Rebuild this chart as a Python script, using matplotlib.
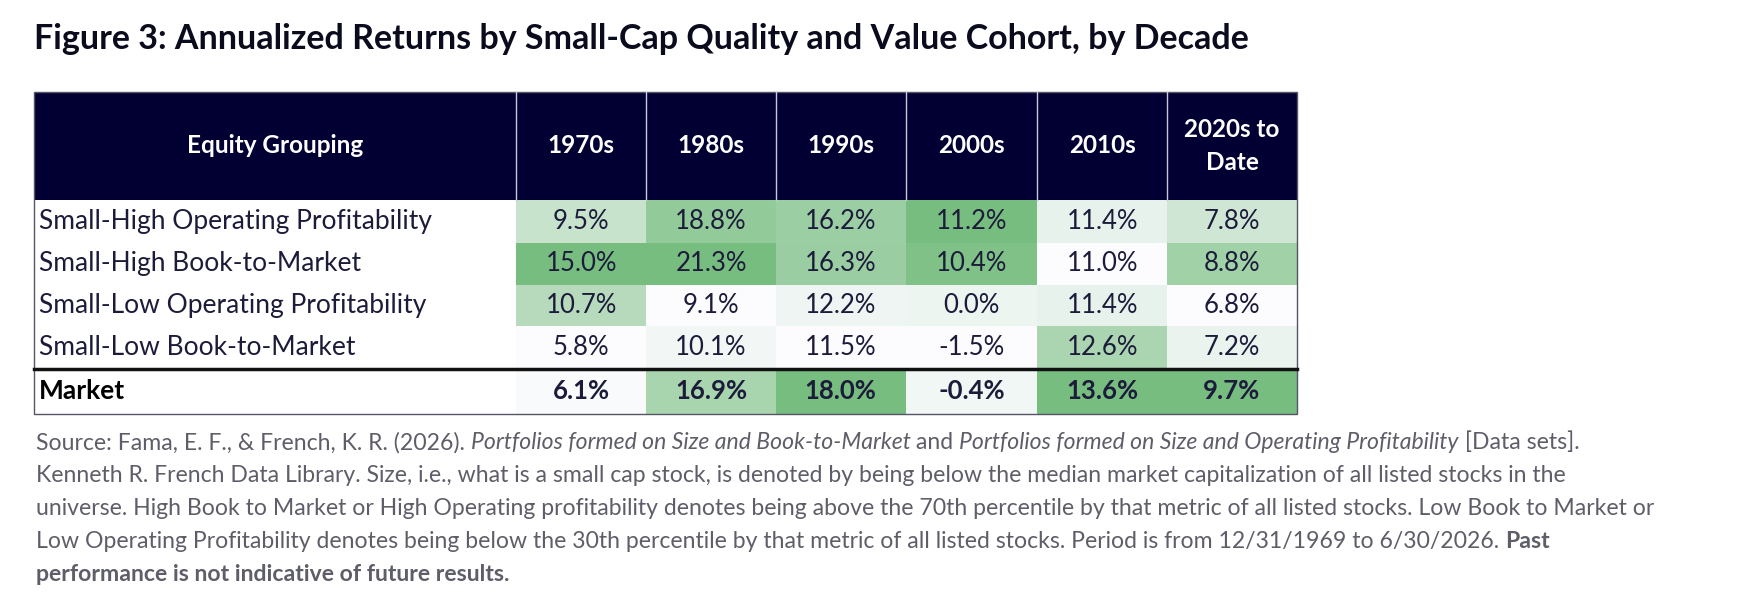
import numpy as np
import matplotlib.pyplot as plt
from matplotlib.patches import Rectangle
from matplotlib.colors import LinearSegmentedColormap

plt.rcParams['font.family'] = ['Lato', 'DejaVu Sans']

title = 'Figure 3: Annualized Returns by Small-Cap Quality and Value Cohort, by Decade'
col_labels = ['Equity Grouping', '1970s', '1980s', '1990s', '2000s', '2010s', '2020s to\nDate']
row_labels = ['Small-High Operating Profitability', 'Small-High Book-to-Market',
              'Small-Low Operating Profitability', 'Small-Low Book-to-Market', 'Market']
returns = np.array([
    [9.5, 18.8, 16.2, 11.2, 11.4, 7.8],
    [15.0, 21.3, 16.3, 10.4, 11.0, 8.8],
    [10.7, 9.1, 12.2, 0.0, 11.4, 6.8],
    [5.8, 10.1, 11.5, -1.5, 12.6, 7.2],
    [6.1, 16.9, 18.0, -0.4, 13.6, 9.7],
])

W, H = 1560, 544
navy = '#020033'
ink = '#1c1c3a'
cmap = LinearSegmentedColormap.from_list('g', ['#fcfcff', '#78bd80'])

fig = plt.figure(figsize=(17.44, 6.08), dpi=100)
ax = fig.add_axes([0, 0, 1, 1])
ax.set_xlim(0, W)
ax.set_ylim(H, 0)
ax.axis('off')

ax.text(30, 35, title, fontsize=24.5, fontweight='bold', color='#0b0b1e', va='center', ha='left')

xs = [30, 462, 578, 694, 810, 928, 1044, 1160]
top, hbot = 82, 179
row_y = [179, 217, 255, 292, 330, 370]

# header
ax.add_patch(Rectangle((xs[0], top), xs[-1] - xs[0], hbot - top, color=navy, lw=0))
for i, lab in enumerate(col_labels):
    ax.text((xs[i] + xs[i + 1]) / 2, (top + hbot) / 2, lab, color='white', fontsize=17.5,
            fontweight='bold', ha='center', va='center', linespacing=1.5)
    if i > 0:
        ax.plot([xs[i], xs[i]], [top, hbot], color='#c8c8d8', lw=1)

# body
for r, lab in enumerate(row_labels):
    y0, y1 = row_y[r], row_y[r + 1]
    bold = lab == 'Market'
    ax.text(xs[0] + 5, (y0 + y1) / 2, lab, color=ink if not bold else '#000000', fontsize=19,
            fontweight='bold' if bold else 'normal', ha='left', va='center')
    for c in range(returns.shape[1]):
        col = returns[:, c]
        t = (returns[r, c] - col.min()) / (col.max() - col.min())
        ax.add_patch(Rectangle((xs[c + 1], y0), xs[c + 2] - xs[c + 1], y1 - y0,
                               color=cmap(t), lw=0))
        ax.text((xs[c + 1] + xs[c + 2]) / 2, (y0 + y1) / 2, f'{returns[r, c]:.1f}%', color=ink,
                fontsize=18.5, fontweight='bold' if bold else 'normal', ha='center', va='center')

ax.plot([xs[0], xs[-1]], [row_y[4], row_y[4]], color='#111111', lw=2.5)
ax.add_patch(Rectangle((xs[0], top), xs[-1] - xs[0], row_y[-1] - top, fill=False,
                       ec='#555566', lw=1))

# source note, drawn piece by piece for italic / bold runs
note = [
    [('Source: Fama, E. F., & French, K. R. (2026). ', 'normal', 'normal'),
     ('Portfolios formed on Size and Book-to-Market', 'italic', 'normal'),
     (' and ', 'normal', 'normal'),
     ('Portfolios formed on Size and Operating Profitability', 'italic', 'normal'),
     (' [Data sets].', 'normal', 'normal')],
    [('Kenneth R. French Data Library. Size, i.e., what is a small cap stock, is denoted by being below the median market capitalization of all listed stocks in the', 'normal', 'normal')],
    [('universe. High Book to Market or High Operating profitability denotes being above the 70th percentile by that metric of all listed stocks. Low Book to Market or', 'normal', 'normal')],
    [('Low Operating Profitability denotes being below the 30th percentile by that metric of all listed stocks. Period is from 12/31/1969 to 6/30/2026. ', 'normal', 'normal'),
     ('Past', 'normal', 'bold')],
    [('performance is not indicative of future results.', 'normal', 'bold')],
]
fig.canvas.draw()
renderer = fig.canvas.get_renderer()
inv = ax.transData.inverted()
for i, line in enumerate(note):
    x = 32
    y = 396 + i * 29.5
    for txt, style, weight in line:
        t = ax.text(x, y, txt, fontsize=16.6, style=style, fontweight=weight,
                    color='#5e5e6a', ha='left', va='center')
        bb = t.get_window_extent(renderer)
        x = inv.transform((bb.x1, bb.y0))[0]

fig.savefig('out.png', dpi=100)
